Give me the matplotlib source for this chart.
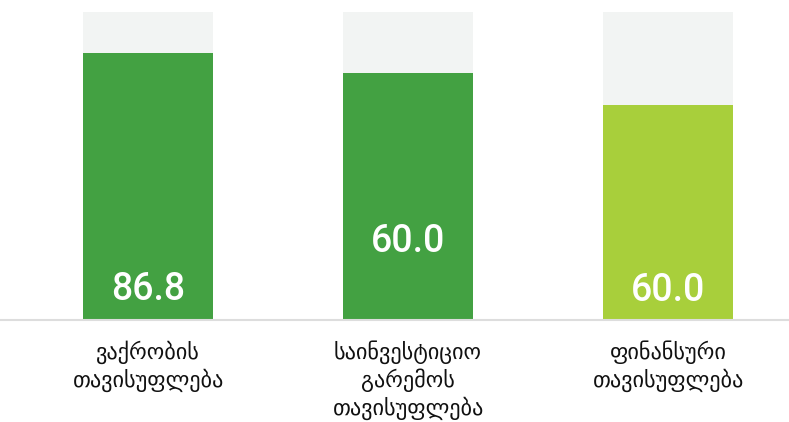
import matplotlib
import matplotlib.pyplot as plt
import numpy as np

plt.switch_backend('agg')

categories = ['ვაქრობის\nთავისუფლება', 'საინვესტიციო\nგარემოს\nთავისუფლება', 'ფინანსური\nთავისუფლება']
heights = [86.8, 80.2, 69.8]
labels = ['86.8', '60.0', '60.0']
full = [100, 100, 100]

bar_colors = ['#43a142', '#43a142', '#a8cf3b']
label_y = [10.0, 25.6, 9.7]

fig = plt.figure(figsize=(7.89, 4.22), dpi=100)
ax = fig.add_axes([0, (422 - 320) / 422, 1, 308 / 422])

x = np.arange(len(categories))
ax.bar(x, full, width=0.5, color='#f2f4f3', zorder=1)
ax.bar(x, heights, width=0.5, color=bar_colors, zorder=2)
ax.axhline(0, color='#dddddd', lw=1.5, zorder=3, clip_on=False)

for xi, lab, ly in zip(x, labels, label_y):
	ax.text(xi, ly, lab, ha='center', va='center', color='white',
			fontsize=27, fontfamily='Roboto', fontweight='medium', zorder=4)

for xi, cat in zip(x, categories):
	ax.text(xi, -6.5, cat, ha='center', va='top', color='#111111',
			fontsize=16, fontfamily='DejaVu Sans', linespacing=1.25)

ax.set_xlim(-148 / 260, (789 - 148) / 260)
ax.set_ylim(0, 100)
ax.axis('off')

plt.savefig('out.png', dpi=100)
